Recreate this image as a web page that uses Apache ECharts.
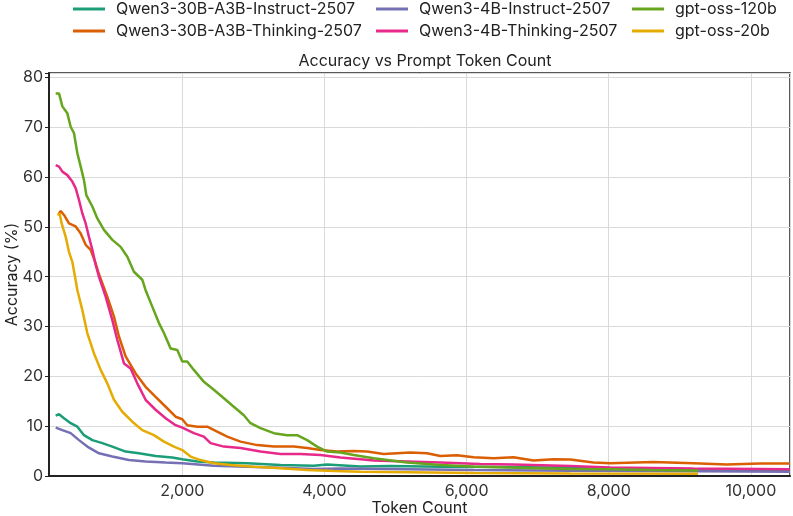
<!DOCTYPE html>
<html>
<head>
<meta charset="utf-8">
<script src="https://cdn.jsdelivr.net/npm/echarts@6/dist/echarts.min.js"></script>
<style>
  html, body { margin: 0; padding: 0; background: #fff; }
  #chart { width: 793px; height: 516px; }
</style>
</head>
<body>
<div id="chart"></div>
<script>
// token counts (x) and accuracy % (y)
const inst30Tokens = [219, 266, 336, 430, 524, 617, 735, 875, 1016, 1203, 1390, 1625, 1859, 2000, 2211, 2444, 2913, 3382, 3850, 4038, 4506, 4927, 5630, 6568, 7457, 8600, 9257, 10550];
const inst30Acc = [12.1, 12.4, 11.6, 10.6, 9.9, 8.2, 7.2, 6.6, 5.9, 4.9, 4.55, 4.0, 3.7, 3.35, 2.9, 2.7, 2.55, 2.2, 2.07, 2.3, 1.9, 2.0, 1.87, 1.8, 1.67, 1.5, 1.3, 1.1];

const think30Tokens = [266, 289, 336, 406, 500, 571, 641, 711, 781, 828, 945, 1039, 1109, 1203, 1344, 1484, 1625, 1766, 1906, 2000, 2070, 2211, 2351, 2491, 2632, 2820, 3054, 3288, 3569, 3757, 3944, 4178, 4412, 4600, 4834, 5209, 5443, 5630, 5865, 6099, 6380, 6661, 6942, 7223, 7457, 7785, 8020, 8628, 9190, 9659, 10128, 10550];
const think30Acc = [52.7, 53.2, 52.4, 50.7, 50.1, 48.7, 46.4, 45.4, 42.7, 40.5, 36.0, 32.0, 28.0, 24.0, 20.6, 17.9, 15.9, 13.9, 11.9, 11.4, 10.2, 9.9, 9.9, 8.9, 7.9, 6.9, 6.2, 5.9, 5.9, 5.6, 5.2, 4.9, 5.0, 4.9, 4.4, 4.7, 4.55, 4.0, 4.15, 3.75, 3.55, 3.75, 3.1, 3.35, 3.3, 2.7, 2.55, 2.8, 2.55, 2.3, 2.5, 2.5];

const inst4Tokens = [219, 313, 430, 547, 664, 828, 1016, 1250, 1484, 1766, 2000, 2444, 2913, 3382, 3850, 4225, 5162, 6099, 7457, 9257, 10550];
const inst4Acc = [9.7, 9.2, 8.6, 7.2, 5.9, 4.55, 3.9, 3.2, 2.9, 2.7, 2.55, 2.07, 1.87, 1.67, 1.4, 1.5, 1.35, 1.2, 1.07, 0.95, 0.85];

const think4Tokens = [219, 266, 313, 383, 453, 500, 547, 594, 641, 687, 735, 781, 828, 922, 1016, 1086, 1180, 1273, 1367, 1484, 1625, 1766, 1906, 2000, 2163, 2304, 2398, 2585, 2820, 3100, 3382, 3663, 3944, 4225, 4506, 4693, 5162, 5630, 6193, 6661, 7457, 8020, 9190, 10550];
const think4Acc = [62.4, 62.1, 61.1, 60.4, 59.1, 57.8, 55.4, 52.7, 50.7, 48.0, 45.4, 42.4, 40.0, 36.0, 31.3, 27.3, 22.6, 21.6, 18.6, 15.3, 13.3, 11.6, 10.2, 9.7, 8.6, 7.9, 6.6, 5.9, 5.6, 4.9, 4.4, 4.4, 4.2, 3.7, 3.35, 3.1, 2.9, 2.7, 2.4, 2.3, 2.0, 1.7, 1.5, 1.35];

const oss120Tokens = [219, 266, 313, 383, 430, 477, 524, 571, 617, 650, 735, 805, 898, 1016, 1133, 1227, 1320, 1437, 1484, 1578, 1672, 1742, 1836, 1930, 2000, 2070, 2163, 2304, 2444, 2585, 2725, 2866, 2960, 3100, 3288, 3476, 3616, 3757, 3897, 4038, 4225, 4412, 4693, 5162, 5630, 6099, 6568, 7457, 8020, 8600, 9257];
const oss120Acc = [76.8, 76.8, 74.2, 72.8, 70.1, 68.8, 64.8, 62.1, 59.4, 56.4, 54.1, 51.7, 49.4, 47.4, 46.0, 44.0, 41.0, 39.4, 37.3, 34.0, 30.7, 28.7, 25.6, 25.3, 23.0, 23.0, 21.3, 18.9, 17.3, 15.6, 13.9, 12.2, 10.6, 9.6, 8.6, 8.2, 8.2, 7.2, 5.9, 4.9, 4.7, 4.2, 3.55, 2.7, 2.2, 1.9, 1.7, 1.4, 1.35, 1.2, 1.1];

const oss20Tokens = [243, 275, 303, 360, 406, 453, 491, 524, 594, 664, 758, 852, 945, 1039, 1156, 1297, 1437, 1601, 1742, 1883, 2000, 2117, 2257, 2444, 2679, 3007, 3382, 3757, 4131, 4506, 5162, 6099, 7457, 9257];
const oss20Acc = [52.4, 52.7, 50.7, 48.0, 45.0, 43.0, 40.0, 37.3, 33.3, 28.7, 24.6, 21.3, 18.6, 15.3, 12.9, 10.9, 9.2, 8.2, 6.9, 5.9, 5.2, 3.9, 3.2, 2.55, 2.2, 1.87, 1.55, 1.2, 1.0, 0.87, 0.75, 0.6, 0.5, 0.45];

const seriesNames = [
  'Qwen3-30B-A3B-Instruct-2507',
  'Qwen3-30B-A3B-Thinking-2507',
  'Qwen3-4B-Instruct-2507',
  'Qwen3-4B-Thinking-2507',
  'gpt-oss-120b',
  'gpt-oss-20b'
];
const seriesColors = ['#1b9e77', '#d95f02', '#7570b3', '#e7298a', '#66a61e', '#e6ab02'];
const seriesTokens = [inst30Tokens, think30Tokens, inst4Tokens, think4Tokens, oss120Tokens, oss20Tokens];
const seriesAcc = [inst30Acc, think30Acc, inst4Acc, think4Acc, oss120Acc, oss20Acc];

const FONT = 'Inter';
const chart = echarts.init(document.getElementById('chart'), null, { renderer: 'canvas' });

function legendCol(left, names) {
  return {
    orient: 'vertical',
    left: left,
    top: -4,
    itemWidth: 32,
    itemHeight: 3,
    itemGap: 6,
    icon: 'rect',
    data: names,
    textStyle: { fontFamily: FONT, fontSize: 16, color: '#222', lineHeight: 16, padding: [0, 0, 0, 6] }
  };
}

const series = seriesNames.map((name, i) => ({
  name: name,
  type: 'line',
  data: seriesTokens[i].map((t, j) => [t, seriesAcc[i][j]]),
  showSymbol: false,
  symbol: 'none',
  lineStyle: { color: seriesColors[i], width: 2.5 },
  itemStyle: { color: seriesColors[i] },
  emphasis: { disabled: true }
}));

chart.setOption({
  animation: false,
  backgroundColor: '#fff',
  textStyle: { fontFamily: FONT },
  title: {
    text: 'Accuracy vs Prompt Token Count',
    left: 420,
    top: 48,
    textAlign: 'center',
    textStyle: { fontFamily: FONT, fontSize: 16, fontWeight: 'normal', color: '#222' }
  },
  legend: [
    legendCol(68, [seriesNames[0], seriesNames[1]]),
    legendCol(371, [seriesNames[2], seriesNames[3]]),
    legendCol(627, [seriesNames[4], seriesNames[5]])
  ],
  grid: {
    left: 49, right: 3, top: 73, bottom: 40,
    containLabel: false,
    outerBoundsMode: 'none',
    show: true, borderColor: '#222', borderWidth: 1.5
  },
  xAxis: {
    type: 'value',
    min: 125,
    max: 10550,
    splitNumber: 5,
    name: 'Token Count',
    nameLocation: 'middle',
    nameGap: 24,
    nameMoveOverlap: false,
    nameTextStyle: { fontFamily: FONT, fontSize: 16, color: '#222' },
    axisLine: { show: true, lineStyle: { color: '#222', width: 2 } },
    axisTick: { show: false },
    axisLabel: {
      fontFamily: FONT, fontSize: 16, color: '#333', margin: 7,
      formatter: v => (v % 2000 === 0 ? v.toLocaleString('en-US') : '')
    },
    splitLine: { show: true, lineStyle: { color: '#d9d9d9', width: 1 } }
  },
  yAxis: {
    type: 'value',
    min: 0,
    max: 80.9,
    interval: 10,
    name: 'Accuracy (%)',
    nameLocation: 'middle',
    nameGap: 29,
    nameMoveOverlap: false,
    nameTextStyle: { fontFamily: FONT, fontSize: 16, color: '#222' },
    axisLine: { show: true, lineStyle: { color: '#222', width: 2 } },
    axisTick: { show: true, length: 4, lineStyle: { color: '#222' } },
    axisLabel: {
      fontFamily: FONT, fontSize: 16, color: '#333', margin: 6,
      formatter: v => (v % 10 === 0 ? String(v) : '')
    },
    splitLine: { show: true, lineStyle: { color: '#d9d9d9', width: 1 } }
  },
  series: series
});
</script>
</body>
</html>
